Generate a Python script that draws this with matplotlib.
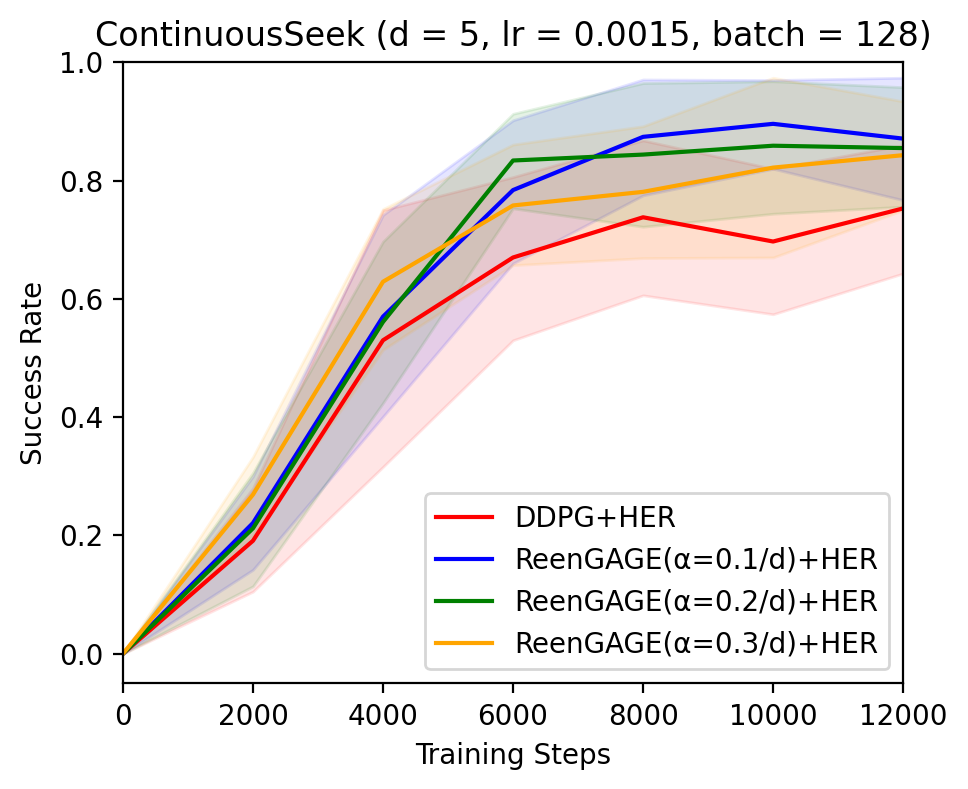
import numpy as np
import matplotlib
matplotlib.use("Agg")
import matplotlib.pyplot as plt

steps = [0, 2000, 4000, 6000, 8000, 10000, 12000]

labels = [
    "DDPG+HER",
    "ReenGAGE(α=0.1/d)+HER",
    "ReenGAGE(α=0.2/d)+HER",
    "ReenGAGE(α=0.3/d)+HER",
]
colors = ["red", "blue", "green", "orange"]

# mean curves
ddpg_mean = [0.0, 0.191, 0.530, 0.670, 0.738, 0.697, 0.753]
reen01_mean = [0.0, 0.221, 0.570, 0.784, 0.874, 0.896, 0.871]
reen02_mean = [0.0, 0.212, 0.561, 0.834, 0.844, 0.859, 0.855]
reen03_mean = [0.0, 0.269, 0.629, 0.758, 0.781, 0.822, 0.843]

# lower / upper band edges
ddpg_low = [0.0, 0.105, 0.316, 0.530, 0.606, 0.574, 0.643]
ddpg_high = [0.0, 0.280, 0.750, 0.806, 0.868, 0.820, 0.860]
reen01_low = [0.0, 0.142, 0.401, 0.660, 0.775, 0.820, 0.767]
reen01_high = [0.0, 0.300, 0.742, 0.902, 0.971, 0.970, 0.974]
reen02_low = [0.0, 0.114, 0.424, 0.753, 0.722, 0.744, 0.756]
reen02_high = [0.0, 0.306, 0.697, 0.913, 0.965, 0.968, 0.958]
reen03_low = [0.0, 0.200, 0.514, 0.657, 0.669, 0.670, 0.750]
reen03_high = [0.0, 0.333, 0.752, 0.861, 0.892, 0.974, 0.934]

means = [ddpg_mean, reen01_mean, reen02_mean, reen03_mean]
lows = [ddpg_low, reen01_low, reen02_low, reen03_low]
highs = [ddpg_high, reen01_high, reen02_high, reen03_high]

fig = plt.figure(figsize=(4.84, 3.945), dpi=200)
ax = fig.add_axes([0.127, 0.134, 0.806, 0.787])

for mean, low, high, color, label in zip(means, lows, highs, colors, labels):
    ax.plot(steps, mean, color=color, label=label)
    ax.fill_between(steps, low, high, color=color, alpha=0.1)

ax.set_xlim(0, 12000)
ax.set_ylim(-0.05, 1.0)
ax.set_xticks([0, 2000, 4000, 6000, 8000, 10000, 12000])
ax.set_yticks([0.0, 0.2, 0.4, 0.6, 0.8, 1.0])
ax.set_xlabel("Training Steps")
ax.set_ylabel("Success Rate")
ax.set_title("ContinuousSeek (d = 5, lr = 0.0015, batch = 128)", fontsize=12)
ax.legend(loc="lower right")

fig.savefig("out.png", dpi=200)
